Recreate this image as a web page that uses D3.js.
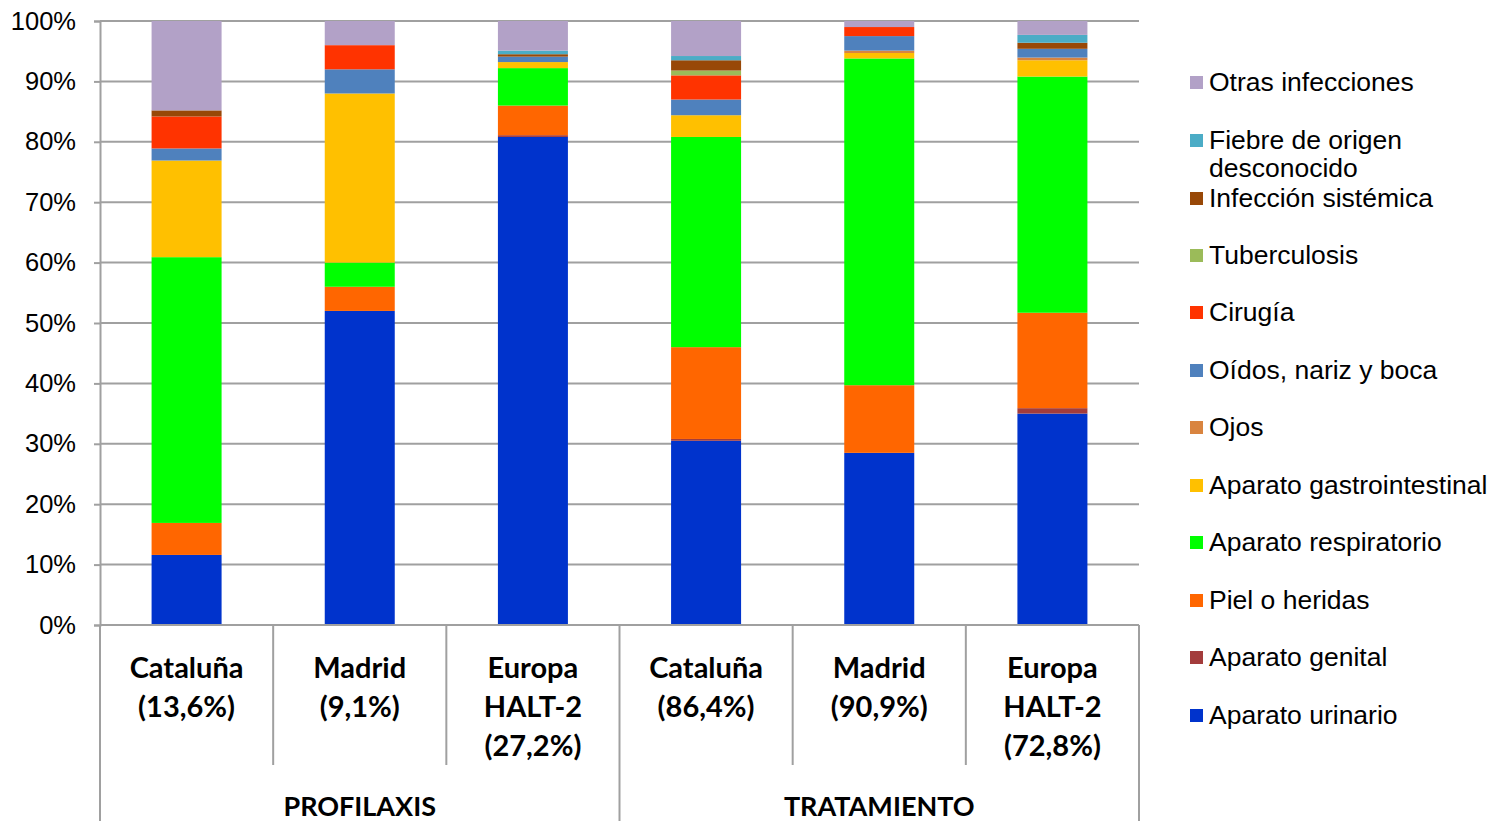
<!DOCTYPE html>
<html>
<head>
<meta charset="utf-8">
<script src="https://cdn.jsdelivr.net/npm/d3@7"></script>
<style>
  html, body { margin: 0; padding: 0; background: #fff; }
  svg { display: block; }
  .sans { font-family: "Liberation Sans", Arial, sans-serif; }
  .label { font-family: Lato, "Open Sans", sans-serif; font-weight: bold; }
</style>
</head>
<body>
<svg id="chart" width="1493" height="821"></svg>
<script>
// Categories (bottom axis) and their group
const categories = ["cat-p", "mad-p", "eur-p", "cat-t", "mad-t", "eur-t"];
const categoryLines = [
  ["Cataluña", "(13,6%)"],
  ["Madrid", "(9,1%)"],
  ["Europa", "HALT-2", "(27,2%)"],
  ["Cataluña", "(86,4%)"],
  ["Madrid", "(90,9%)"],
  ["Europa", "HALT-2", "(72,8%)"]
];
const groups = ["PROFILAXIS", "TRATAMIENTO"];

// Series, stacked bottom to top (percent of each column)
const seriesNames = [
  "Aparato urinario", "Aparato genital", "Piel o heridas", "Aparato respiratorio",
  "Aparato gastrointestinal", "Ojos", "Oídos, nariz y boca", "Cirugía",
  "Tuberculosis", "Infección sistémica", "Fiebre de origen desconocido", "Otras infecciones"
];
const urinario       = [11.6, 52.0, 80.8, 30.5, 28.5, 35.0];
const genital        = [0,    0,    0.3,  0.3,  0,    0.9];
const piel           = [5.3,  4.0,  4.9,  15.2, 11.2, 15.8];
const respiratorio   = [44.0, 4.0,  6.2,  34.8, 54.1, 39.1];
const gastro         = [16.0, 28.0, 1.0,  3.6,  0.9,  2.7];
const ojos           = [0,    0,    0,    0,    0.4,  0.45];
const oidos          = [2.0,  4.0,  0.9,  2.6,  2.4,  1.45];
const cirugia        = [5.3,  4.0,  0,    4.0,  1.5,  0];
const tuberculosis   = [0,    0,    0,    0.8,  0,    0];
const sistemica      = [1.0,  0,    0.4,  1.7,  0,    1.0];
const fiebre         = [0,    0,    0.6,  0.7,  0,    1.3];
const otras          = [14.8, 4.0,  4.9,  5.8,  1.0,  2.3];

const seriesValues = [urinario, genital, piel, respiratorio, gastro, ojos,
  oidos, cirugia, tuberculosis, sistemica, fiebre, otras];
const seriesColors = ["#0033cc", "#a33c3c", "#ff6600", "#00ff00", "#ffc000", "#d9843f",
  "#4f81bd", "#ff3300", "#9bbb59", "#984807", "#4bacc6", "#b2a1c7"];

const yTicks = [0, 10, 20, 30, 40, 50, 60, 70, 80, 90, 100];

// Table for d3.stack
const table = categories.map((c, i) => {
  const row = { category: c };
  seriesNames.forEach((s, k) => { row[s] = seriesValues[k][i]; });
  return row;
});

const svg = d3.select("#chart");
const plotLeft = 100, plotRight = 1139, plotTop = 21, plotBottom = 625;

const x = d3.scaleBand().domain(categories).range([plotLeft, plotRight]).paddingInner(0).paddingOuter(0);
const y = d3.scaleLinear().domain([0, 100]).range([plotBottom, plotTop]);
const color = d3.scaleOrdinal().domain(seriesNames).range(seriesColors);

const gridColor = "#a0a0a0";

// horizontal gridlines
svg.append("g")
  .selectAll("line")
  .data(yTicks)
  .join("line")
  .attr("x1", plotLeft).attr("x2", plotRight)
  .attr("y1", d => y(d)).attr("y2", d => y(d))
  .attr("stroke", gridColor).attr("stroke-width", 2);

// y axis
const yAxis = svg.append("g")
  .attr("transform", `translate(${plotLeft},0)`)
  .call(d3.axisLeft(y).tickValues(yTicks).tickFormat(d => d + "%").tickSize(6).tickPadding(18));
yAxis.attr("font-family", null).attr("font-size", null).attr("class", "sans");
yAxis.select(".domain").attr("stroke", gridColor).attr("stroke-width", 2);
yAxis.selectAll(".tick line").attr("stroke", gridColor).attr("stroke-width", 2);
yAxis.selectAll(".tick text")
  .style("font-size", "25.5px").attr("fill", "#000");

// stacked bars
const stacked = d3.stack().keys(seriesNames)(table);
const barW = 70;
svg.append("g")
  .selectAll("g")
  .data(stacked)
  .join("g")
  .attr("fill", d => color(d.key))
  .selectAll("rect")
  .data(d => d)
  .join("rect")
  .attr("x", d => x(d.data.category) + (x.bandwidth() - barW) / 2)
  .attr("width", barW)
  .attr("y", d => y(d[1]))
  .attr("height", d => Math.max(0, y(d[0]) - y(d[1])));

// bottom baseline
svg.append("line")
  .attr("x1", plotLeft).attr("x2", plotRight)
  .attr("y1", plotBottom).attr("y2", plotBottom)
  .attr("stroke", gridColor).attr("stroke-width", 2);

// category separators
const sepG = svg.append("g").attr("stroke", gridColor).attr("stroke-width", 2);
categories.forEach((c, i) => {
  if (i === 0) return;
  const xx = x(c);
  const isGroupEdge = i % 3 === 0;
  sepG.append("line")
    .attr("x1", xx).attr("x2", xx)
    .attr("y1", plotBottom).attr("y2", isGroupEdge ? 821 : 765);
});
[plotLeft, plotRight].forEach(xx => {
  sepG.append("line").attr("x1", xx).attr("x2", xx).attr("y1", plotBottom).attr("y2", 821);
});

// category labels
const catG = svg.append("g")
  .attr("class", "label")
  .attr("text-anchor", "middle").attr("fill", "#000");
categories.forEach((c, i) => {
  const cx = x(c) + x.bandwidth() / 2;
  categoryLines[i].forEach((line, j) => {
    catG.append("text")
      .attr("x", cx).attr("y", 666 + j * 39)
      .attr("dominant-baseline", "central")
      .style("font-size", "29px")
      .text(line);
  });
});

// group labels
groups.forEach((g, i) => {
  const x0 = x(categories[i * 3]);
  const x1 = x(categories[i * 3 + 2]) + x.bandwidth();
  catG.append("text")
    .attr("x", (x0 + x1) / 2).attr("y", 805)
    .attr("dominant-baseline", "central")
    .style("font-size", "27px")
    .text(g);
});

// legend (top entry = last series)
const legendItems = [
  { key: "Otras infecciones", lines: ["Otras infecciones"], y: 82 },
  { key: "Fiebre de origen desconocido", lines: ["Fiebre de origen", "desconocido"], y: 140 },
  { key: "Infección sistémica", lines: ["Infección sistémica"], y: 198 },
  { key: "Tuberculosis", lines: ["Tuberculosis"], y: 255 },
  { key: "Cirugía", lines: ["Cirugía"], y: 312 },
  { key: "Oídos, nariz y boca", lines: ["Oídos, nariz y boca"], y: 370 },
  { key: "Ojos", lines: ["Ojos"], y: 427 },
  { key: "Aparato gastrointestinal", lines: ["Aparato gastrointestinal"], y: 485 },
  { key: "Aparato respiratorio", lines: ["Aparato respiratorio"], y: 542 },
  { key: "Piel o heridas", lines: ["Piel o heridas"], y: 600 },
  { key: "Aparato genital", lines: ["Aparato genital"], y: 657 },
  { key: "Aparato urinario", lines: ["Aparato urinario"], y: 715 }
];
const legG = svg.append("g").attr("class", "sans").attr("fill", "#000");
legendItems.forEach(item => {
  legG.append("rect")
    .attr("x", 1190).attr("y", item.y - 6)
    .attr("width", 13).attr("height", 13)
    .attr("fill", color(item.key));
  item.lines.forEach((line, j) => {
    legG.append("text")
      .attr("x", 1209).attr("y", item.y + j * 28)
      .attr("dominant-baseline", "central")
      .style("font-size", "26.5px")
      .text(line);
  });
});
</script>
</body>
</html>
